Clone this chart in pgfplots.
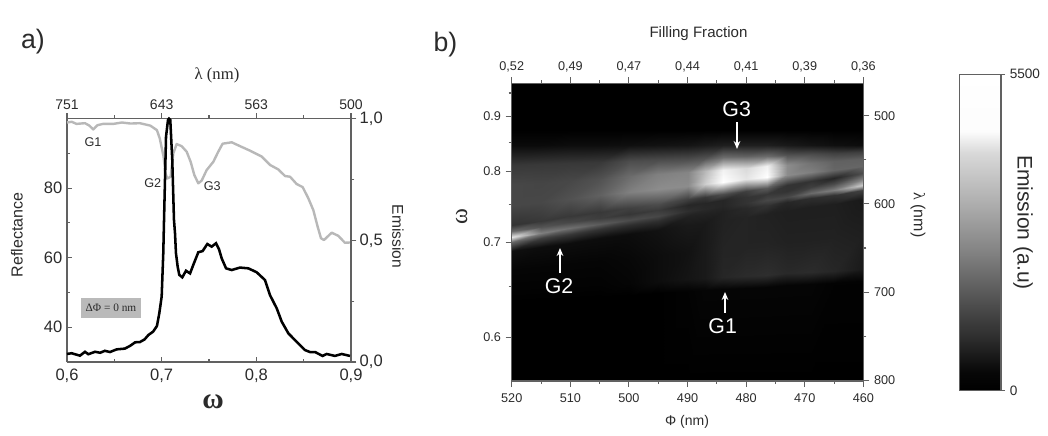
\documentclass[border=0pt]{standalone}
\usepackage{fontspec}
\setmainfont{Liberation Sans}
\newfontfamily\serifz{Liberation Serif}
\usepackage{pgfplots}
\usepackage{pgfplotstable}
\usetikzlibrary{arrows.meta}
\pgfplotsset{compat=1.18}
\definecolor{ax}{gray}{0.38}
\definecolor{tx}{gray}{0.17}
\pgfplotstableread{
w r
0.600 98.9
0.605 99.1
0.610 98.5
0.619 98.7
0.6236 98.0
0.6278 96.9
0.632 98.1
0.638 98.5
0.649 98.5
0.658 98.9
0.667 98.6
0.677 98.7
0.688 98.0
0.695 96.7
0.698 94.3
0.702 89.1
0.704 84.3
0.706 82.8
0.7095 83.3
0.7123 90.0
0.7158 92.7
0.7211 92.1
0.7264 90.5
0.7306 87.6
0.7345 83.8
0.7387 81.4
0.7423 82.2
0.7475 85.2
0.7546 87.6
0.7598 90.5
0.7644 92.8
0.774 93.2
0.7827 92.1
0.7933 90.8
0.8057 89.1
0.8144 86.7
0.8232 85.4
0.8303 83.5
0.8356 83.3
0.8426 81.2
0.849 80.3
0.8549 77.1
0.8602 73.7
0.8648 68.9
0.8683 65.6
0.8715 65.1
0.8796 67.2
0.8866 66.3
0.8936 64.3
0.900 64.4
}\reflectance
\pgfplotstableread{
w e
0.600 0.033
0.6049 0.036
0.6137 0.026
0.619 0.042
0.6225 0.032
0.6296 0.042
0.635 0.038
0.640 0.046
0.6454 0.041
0.6525 0.052
0.661 0.055
0.6665 0.066
0.672 0.081
0.677 0.082
0.682 0.093
0.686 0.111
0.691 0.125
0.695 0.148
0.6975 0.200
0.700 0.269
0.7017 0.447
0.7025 0.584
0.7046 0.926
0.7067 0.995
0.7077 1.000
0.7091 0.995
0.7112 0.830
0.713 0.584
0.7141 0.529
0.7151 0.447
0.7169 0.392
0.7186 0.358
0.7218 0.348
0.7257 0.375
0.730 0.364
0.7334 0.399
0.7387 0.451
0.7433 0.456
0.7482 0.485
0.7528 0.474
0.7574 0.488
0.7606 0.463
0.7634 0.426
0.768 0.385
0.774 0.378
0.7827 0.388
0.7915 0.385
0.8003 0.369
0.8091 0.337
0.8144 0.275
0.8215 0.221
0.8268 0.166
0.8338 0.118
0.8426 0.083
0.8514 0.049
0.8567 0.041
0.862 0.041
0.870 0.025
0.8743 0.033
0.883 0.025
0.8902 0.033
0.8989 0.025
}\emission
\pgfplotstableread{
p l g
520 463.3 0
520 516 0
520 533 .04
520 555.9 .22
520 578.6 .28
520 601.2 .28
520 623.9 .2
520 630.7 .4
520 637.5 .9
520 643.2 .4
520 653.4 .06
520 675.5 .02
520 697.6 .01
520 711.2 0
520 800.8 0
515 463.3 0
515 516 0
515 533 .04
515 554.7 .22
515 576.2 .27
515 597.6 .28
515 619.1 .22
515 625.9 .33
515 632.7 .5
515 638.4 .25
515 648.6 .05
515 672.1 .02
515 695.6 .01
515 709.2 0
515 800.8 0
510 463.3 0
510 516 0
510 533 .05
510 553.5 .22
510 573.8 .28
510 594 .32
510 614.3 .22
510 621.1 .28
510 627.9 .44
510 633.6 .22
510 643.8 .05
510 668.7 .02
510 693.7 .01
510 707.3 0
510 800.8 0
505 463.3 0
505 516 0
505 533 .05
505 552.3 .22
505 571.3 .32
505 590.4 .38
505 609.4 .22
505 616.2 .24
505 623 .36
505 628.7 .2
505 638.9 .05
505 665.2 .02
505 691.6 .01
505 705.2 0
505 800.8 0
500 463.3 0
500 516 0
500 533 .06
500 551 .3
500 568.9 .42
500 586.7 .5
500 604.5 .25
500 611.3 .21
500 618.1 .3
500 623.8 .18
500 634 .05
500 661.8 .03
500 689.6 .02
500 703.2 0
500 800.8 0
495 463.3 0
495 516 0
495 533 .07
495 549.9 .3
495 566.5 .5
495 583.2 .55
495 599.8 .3
495 606.6 .23
495 613.4 .28
495 619.1 .18
495 629.3 .07
495 658.4 .05
495 687.6 .05
495 701.2 0
495 800.8 0
490 463.3 0
490 516 0
490 533 .08
490 548.6 .3
490 564 .52
490 579.5 .55
490 594.9 .25
490 601.7 .15
490 608.5 .18
490 614.2 .13
490 624.4 .1
490 655 .07
490 685.6 .08
490 699.2 .01
490 800.8 0
487 463.3 0
487 516 0
487 533 .1
487 547.9 .32
487 562.6 .72
487 577.3 .8
487 592 .22
487 598.8 .15
487 605.6 .16
487 611.3 .13
487 621.5 .1
487 653 .1
487 684.4 .1
487 698 .02
487 800.8 0
484 463.3 0
484 516 0
484 533 .12
484 547.2 .42
484 561.2 .95
484 575.1 1
484 589.1 .3
484 595.9 .15
484 602.7 .15
484 608.4 .13
484 618.6 .13
484 651 .14
484 683.2 .15
484 696.8 .02
484 800.8 0
480 463.3 0
480 516 0
480 533 .12
480 546.2 .38
480 559.2 .85
480 572.2 .9
480 585.2 .25
480 592 .2
480 598.8 .2
480 604.5 .16
480 614.7 .14
480 648.2 .14
480 681.7 .17
480 695.3 .02
480 800.8 0
476.5 463.3 0
476.5 516 0
476.5 533 .12
476.5 545.3 .42
476.5 557.4 .95
476.5 569.5 1
476.5 581.6 .35
476.5 588.4 .22
476.5 595.2 .28
476.5 600.9 .2
476.5 611.1 .13
476.5 645.7 .14
476.5 680.2 .18
476.5 693.8 .02
476.5 800.8 0
473 463.3 0
473 516 0
473 533 .1
473 544.5 .32
473 555.7 .55
473 567 .55
473 578.2 .2
473 585 .2
473 591.8 .28
473 597.5 .15
473 607.7 .12
473 643.3 .13
473 678.8 .16
473 692.4 .02
473 800.8 0
469 463.3 0
469 516 0
469 533 .08
469 543.5 .3
469 553.8 .45
469 564 .5
469 574.3 .2
469 581.1 .25
469 587.9 .42
469 593.6 .18
469 603.8 .12
469 640.5 .13
469 677.2 .17
469 690.8 .02
469 800.8 0
465 463.3 0
465 516 0
465 533 .06
465 542.5 .25
465 551.8 .38
465 561.2 .4
465 570.5 .15
465 577.3 .3
465 584.1 .5
465 589.8 .2
465 600 .12
465 637.9 .13
465 675.7 .15
465 689.3 .01
465 800.8 0
460 463.3 0
460 516 0
460 533 .05
460 541.2 .25
460 549.3 .38
460 557.3 .4
460 565.4 .3
460 572.2 .5
460 579 .8
460 584.7 .25
460 594.9 .1
460 634.3 .12
460 673.7 .1
460 687.3 .01
460 800.8 0
}\heat
\pgfplotstableread{
x y g
0 0 0
1 0 0
0 330 .03
1 330 .03
0 935 .18
1 935 .18
0 1485 .3
1 1485 .3
0 2365 .5
1 2365 .5
0 3245 .68
1 3245 .68
0 4125 .85
1 4125 .85
0 4510 .99
1 4510 .99
0 5500 1
1 5500 1
}\cbar
\pgfplotsset{
  every non boxed x axis/.style={x axis line style={-}},
  every non boxed y axis/.style={y axis line style={-}},
  common/.style={
    scale only axis,
    anchor=south west,
    axis line style={draw=ax,line width=0.9pt},
    tick style={draw=ax,line width=0.8pt},
    every tick label/.append style={text=tx},
    clip=false,
  },
  bwmap/.style={colormap={bw}{gray(0cm)=(0); gray(1cm)=(1)},point meta min=0,point meta max=1},
}
\begin{document}
\begin{tikzpicture}
\path[use as bounding box] (0,0) rectangle (786pt,-326.25pt);
% ---------- panel a
\begin{axis}[common,at={(50.25pt,-271.5pt)},width=213pt,height=182.5pt,
  axis x line=bottom,axis y line=left,
  xmin=0.6,xmax=0.9,ymin=30,ymax=100,
  xtick={0.6,0.7,0.8,0.9},xticklabels={{0,6},{0,7},{0,8},{0,9}},
  minor xtick={0.65,0.75,0.85},
  ytick={40,60,80},yticklabels={40,60,80},minor ytick={50,70,90},
  tick align=inside,major tick length=4pt,minor tick length=2.5pt,
  ticklabel style={font=\fontsize{12.4}{14}\selectfont},
  xticklabel style={yshift=-1.5pt},
  clip=true]
\addplot[color=black!28,line width=1.8pt,line join=round] table[x=w,y=r] {\reflectance};
\end{axis}
\begin{axis}[common,at={(50.25pt,-271.5pt)},width=213pt,height=182.5pt,
  axis x line=top,axis y line=right,
  xmin=0.6,xmax=0.9,ymin=0,ymax=1,
  xtick={0.6,0.7,0.8,0.9},xticklabels={751,643,563,500},
  minor xtick={0.65,0.75,0.85},
  ytick={0,0.5,1},yticklabels={{0,0},{0,5},{1,0}},minor ytick={0.25,0.75},
  tick align=outside,major tick length=4pt,minor tick length=2.5pt,
  xticklabel style={font=\fontsize{10.5}{12}\selectfont,yshift=-0.8pt},
  yticklabel style={font=\fontsize{12.4}{14}\selectfont,xshift=-1pt},
  clip=false]
\addplot[black,line width=1.9pt,line join=miter,miter limit=20] table[x=w,y=e] {\emission};
\end{axis}
% ---------- panel b
\begin{axis}[common,at={(383.8pt,-285.75pt)},width=263.7pt,height=223.3pt,
  axis x line=bottom,axis y line=left,axis on top,
  x dir=reverse,y dir=reverse,
  xmin=460,xmax=520,ymin=463.3,ymax=800.8,
  xtick={520,510,500,490,480,470,460},xticklabels={520,510,500,490,480,470,460},
  minor xtick={515,505,495,485,475,465},
  ytick={500.7,563.3,643.7,751},yticklabels={0.9,0.8,0.7,0.6},
  minor ytick={474.3,530.1,600.8,693.2},
  tick align=outside,major tick length=4.5pt,minor tick length=2.3pt,
  ticklabel style={font=\fontsize{9.5}{11}\selectfont},
  xticklabel style={yshift=-1.2pt},
  bwmap,clip=true]
\addplot[surf,shader=interp,point meta=explicit,mesh/ordering=y varies,mesh/rows=15,mesh/cols=15]
  table[x=p,y=l,meta=g] {\heat};
\end{axis}
\begin{axis}[common,at={(383.8pt,-285.75pt)},width=263.7pt,height=223.3pt,
  axis x line=top,axis y line=right,
  x dir=reverse,y dir=reverse,
  xmin=460,xmax=520,ymin=463.3,ymax=800.8,
  xtick={520,510,500,490,480,470,460},
  xticklabels={{0,52},{0,49},{0,47},{0,44},{0,41},{0,39},{0,36}},
  minor xtick={515,505,495,485,475,465},
  ytick={500,600,700,800},yticklabels={500,600,700,800},minor ytick={550,650,750},
  tick align=outside,major tick length=4.5pt,minor tick length=2.3pt,
  ticklabel style={font=\fontsize{9.5}{11}\selectfont}]
\end{axis}
% ---------- colour bar
\begin{axis}[common,at={(719.5pt,-293pt)},width=31.3pt,height=237.3pt,
  axis on top,xmin=0,xmax=1,ymin=0,ymax=5500,xtick=\empty,
  ytick={0,5500},yticklabels={0,5500},ytick pos=right,
  tick align=outside,major tick length=3pt,
  ticklabel style={font=\fontsize{10.2}{12}\selectfont},
  bwmap,clip=true]
\addplot[surf,shader=interp,point meta=explicit,mesh/cols=2,mesh/rows=9]
  table[x=x,y=y,meta=g] {\cbar};
\end{axis}
% ---------- texts (pixel coordinates of the reference)
\begin{scope}[x=0.75pt,y=-0.75pt]
\node[font=\fontsize{20}{22}\selectfont,text=tx] at (33,42) {a)};
\node[font=\fontsize{20}{22}\selectfont,text=tx] at (445.5,45) {b)};
\node[font=\serifz\fontsize{12.5}{14}\selectfont,text=tx] at (217,75) {λ (nm)};
\node[font=\serifz\bfseries\fontsize{22}{24}\selectfont,text=tx] at (213,402) {ω};
\node[rotate=90,font=\fontsize{12}{14}\selectfont,text=tx] at (17,235) {Reflectance};
\node[rotate=-90,font=\fontsize{11.7}{14}\selectfont,text=tx] at (398,236.5) {Emission};
\node[font=\fontsize{9.5}{11}\selectfont,text=tx] at (93,142) {G1};
\node[font=\fontsize{9.5}{11}\selectfont,text=tx] at (152.7,182.7) {G2};
\node[font=\fontsize{9.5}{11}\selectfont,text=tx] at (212.3,186) {G3};
\fill[black!27] (81,298) rectangle (141,318);
\node[font=\serifz\fontsize{8.5}{10}\selectfont,text=tx] at (111,308) {ΔΦ = 0 nm};
\node[font=\fontsize{11.3}{13}\selectfont,text=tx] at (698.5,34) {Filling Fraction};
\node[font=\fontsize{10.5}{12}\selectfont,text=tx] at (687,421.7) {Φ (nm)};
\node[rotate=90,font=\serifz\fontsize{18}{20}\selectfont,text=tx] at (461.7,216.7) {ω};
\node[rotate=-90,font=\fontsize{12}{14}\selectfont,text=tx] at (918,215) {{\serifz λ} (nm)};
\node[rotate=-90,font=\fontsize{15.8}{18}\selectfont,text=tx] at (1023,222.5) {Emission (a.u)};
\node[font=\fontsize{16}{18}\selectfont,text=white] at (736.7,109) {G3};
\node[font=\fontsize{16}{18}\selectfont,text=white] at (559,286) {G2};
\node[font=\fontsize{16}{18}\selectfont,text=white] at (722.7,326) {G1};
\draw[white,line width=1pt,-{Stealth[length=6pt,width=5pt]}] (737,122) -- (737,149);
\draw[white,line width=1pt,-{Stealth[length=6pt,width=5pt]}] (560,273) -- (560,248);
\draw[white,line width=1pt,-{Stealth[length=6pt,width=5pt]}] (725,313) -- (725,292);
\end{scope}
\end{tikzpicture}
\end{document}
